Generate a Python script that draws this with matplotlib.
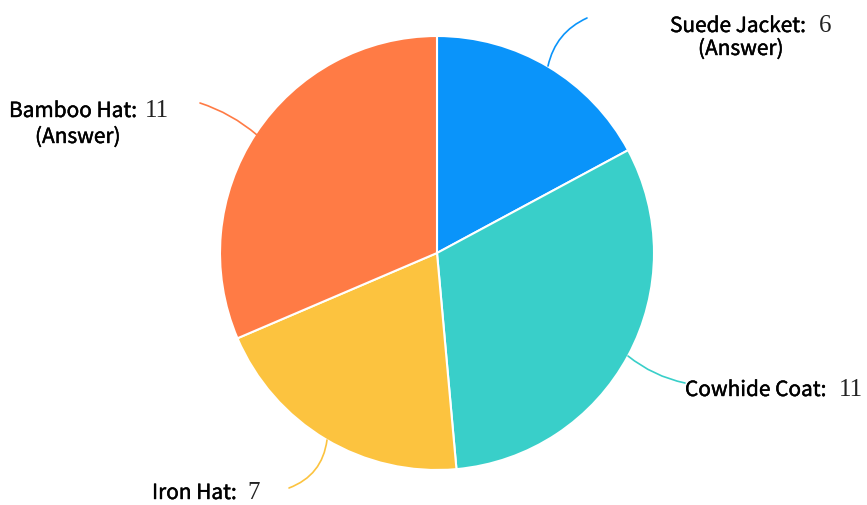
import matplotlib.pyplot as plt
import matplotlib.patheffects as pe

names = ['Suede Jacket', 'Cowhide Coat', 'Iron Hat', 'Bamboo Hat']
values = [6, 11, 7, 11]
notes = ['(Answer)', '', '', '(Answer)']
colors = ['#0A94FA', '#39CFC9', '#FCC33F', '#FF7B45']

W, H = 867, 505
cx, cy, r = 437, 253, 217

fig = plt.figure(figsize=(W / 100, H / 100), dpi=100)
ax = fig.add_axes([(cx - r) / W, (H - cy - r) / H, 2 * r / W, 2 * r / H])
ax.pie(values, colors=colors, startangle=90, counterclock=False, radius=1,
       wedgeprops=dict(edgecolor='white', linewidth=1.5))
ax.set_xlim(-1, 1)
ax.set_ylim(-1, 1)
ax.set_aspect('equal')
ax.axis('off')


def p2d(px, py):
    # pixel coords -> data coords
    return (px - cx) / r, (cy - py) / r


# leader lines: start on pie edge, end near label
lines = [((548, 66), (587, 18), -0.25),
         ((628, 356), (685, 383), 0.12),
         ((327, 440), (289, 488), -0.3),
         ((257, 135), (200, 103), 0.1)]
for (a, b, rad), c in zip(lines, colors):
    ax.annotate('', xy=p2d(*b), xytext=p2d(*a), annotation_clip=False,
                arrowprops=dict(arrowstyle='-', color=c, lw=1.2,
                                connectionstyle='arc3,rad=%s' % rad,
                                shrinkA=0, shrinkB=0))

# label anchors: name left/baseline, note left/baseline, gap before number
label_pos = [((670, 32), (698, 55), 13),
             ((685, 396), None, 12),
             ((152, 499), None, 11),
             ((9, 117), (35, 143), 8)]

sans = ['Noto Sans CJK SC', 'DejaVu Sans']
bolder = [pe.withStroke(linewidth=0.3, foreground='black')]
fig.canvas.draw()
renderer = fig.canvas.get_renderer()
for name, val, note, (npos, notepos, gap) in zip(names, values, notes, label_pos):
    x, y = p2d(*npos)
    t = ax.text(x, y, name + ':', family=sans, fontsize=15,
                ha='left', va='baseline', color='black', clip_on=False,
                path_effects=bolder)
    bb = t.get_window_extent(renderer)
    ax.text(((bb.x1 + gap) - cx) / r, y, str(val), family='Liberation Serif',
            fontsize=18, ha='left', va='baseline', color='#222222',
            clip_on=False)
    if notepos:
        nx, ny = p2d(*notepos)
        ax.text(nx, ny, note, family=sans, fontsize=15, ha='left',
                va='baseline', color='black', clip_on=False,
                path_effects=bolder)

fig.savefig('out.png', dpi=100)
